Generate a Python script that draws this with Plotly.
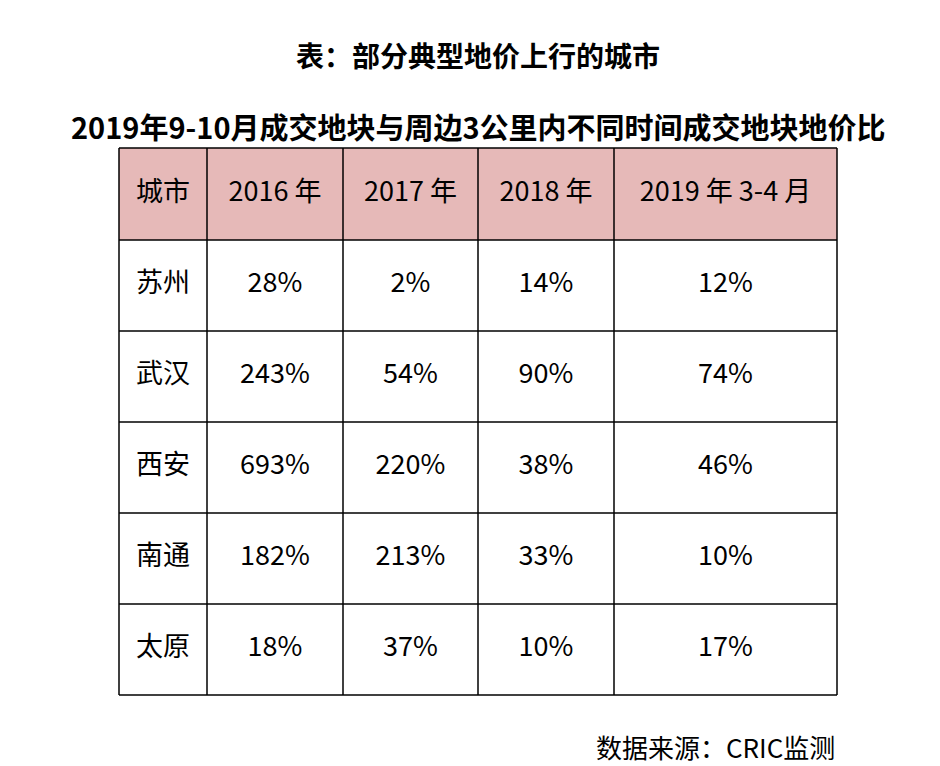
import plotly.graph_objects as go

headers = ["城市", "2016 年", "2017 年", "2018 年", "2019 年 3-4 月"]
cities = ["苏州", "武汉", "西安", "南通", "太原"]
y2016 = ["28%", "243%", "693%", "182%", "18%"]
y2017 = ["2%", "54%", "220%", "213%", "37%"]
y2018 = ["14%", "90%", "38%", "33%", "10%"]
y2019 = ["12%", "74%", "46%", "10%", "17%"]

W, H = 940, 766
font = "Noto Sans CJK SC"

# table layout in pixels
left, top = 111, 140
col_w = [88, 136, 135, 136, 223]
head_h, row_h = 92, 91

columns = [cities, y2016, y2017, y2018, y2019]
col_x = [left]
for w in col_w:
    col_x.append(col_x[-1] + w)
row_y = [top, top + head_h]
for _ in cities:
    row_y.append(row_y[-1] + row_h)

fig = go.Figure()

# header fill
fig.add_shape(type="rect", x0=col_x[0], x1=col_x[-1], y0=row_y[0], y1=row_y[1],
              fillcolor="#E6B9B8", line_width=0, layer="below")
# grid lines
for x in col_x:
    fig.add_shape(type="line", x0=x, x1=x, y0=row_y[0], y1=row_y[-1], line=dict(color="black", width=1.5))
for y in row_y:
    fig.add_shape(type="line", x0=col_x[0], x1=col_x[-1], y0=y, y1=y, line=dict(color="black", width=1.5))

# cell text
xs, ys, texts = [], [], []
for c, col in enumerate(columns):
    cx = (col_x[c] + col_x[c + 1]) / 2
    xs.append(cx); ys.append((row_y[0] + row_y[1]) / 2); texts.append(headers[c])
    for r, v in enumerate(col):
        xs.append(cx); ys.append((row_y[r + 1] + row_y[r + 2]) / 2); texts.append(v)
fig.add_trace(go.Scatter(x=xs, y=ys, text=texts, mode="text", hoverinfo="skip",
                         textfont=dict(family=font, size=27, color="black")))

fig.add_annotation(text="<b>表：部分典型地价上行的城市</b>", x=W / 2, y=47, showarrow=False,
                   font=dict(family=font, size=28, color="black"))
fig.add_annotation(text="<b>2019年9-10月成交地块与周边3公里内不同时间成交地块地价比</b>", x=W / 2, y=118,
                   showarrow=False, font=dict(family=font, size=29, color="black"))
fig.add_annotation(text="数据来源：CRIC监测", x=829, y=738, xanchor="right", showarrow=False,
                   font=dict(family=font, size=26, color="black"))

fig.update_xaxes(range=[0, W], visible=False, fixedrange=True)
fig.update_yaxes(range=[H, 0], visible=False, fixedrange=True)
fig.update_layout(width=W, height=H, margin=dict(l=0, r=0, t=0, b=0), showlegend=False,
                  paper_bgcolor="white", plot_bgcolor="white")
fig.write_html("out.html")
